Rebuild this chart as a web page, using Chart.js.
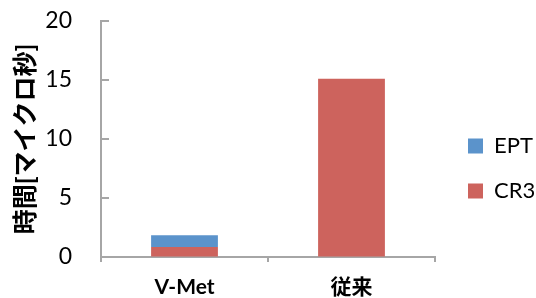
<!DOCTYPE html>
<html>
<head>
<meta charset="utf-8">
<script src="https://cdn.jsdelivr.net/npm/chart.js@4"></script>
<style>
  body { margin: 0; background: #fff; }
  #wrap { width: 536px; height: 298px; }
</style>
</head>
<body>
<div id="wrap"><canvas id="timeChart" width="536" height="298"></canvas></div>
<script>
const categories = ['V-Met', '従来'];
const cr3Values = [0.85, 15.1];
const eptValues = [1.0, 0];
const yTicks = [0, 5, 10, 15, 20];
const axisTitle = '時間[マイクロ秒]';

const axisColor = '#a6a6a6';
const fontFamily = "Lato, 'Noto Sans CJK JP', sans-serif";

// legend placement tweak: fixed width on the right, moved to where the reference has it
const legendPlace = {
    id: 'legendPlace',
    afterInit(chart) {
        const legend = chart.legend;
        const fit = legend.fit;
        legend.fit = function () {
            fit.call(this);
            this.width = 101;
        };
    },
    afterLayout(chart) {
        const legend = chart.legend;
        legend.left = 445;
        legend.right = 536;
        legend.top = 112;
    }
};

// excel style tick marks pointing into the plot on the value axis
const innerTicks = {
    id: 'innerTicks',
    afterDraw(chart) {
        const c = chart.ctx;
        const yScale = chart.scales.y;
        const left = chart.chartArea.left;
        c.save();
        c.strokeStyle = axisColor;
        c.lineWidth = 2;
        c.beginPath();
        yTicks.forEach(v => {
            const py = Math.round(yScale.getPixelForValue(v));
            c.moveTo(left, py);
            c.lineTo(left + 8, py);
        });
        c.stroke();
        c.restore();
    }
};

const ctx = document.getElementById('timeChart').getContext('2d');
new Chart(ctx, {
    type: 'bar',
    data: {
        labels: categories,
        datasets: [
            {
                label: 'CR3',
                data: cr3Values,
                backgroundColor: '#cd635d',
                borderWidth: 0,
                categoryPercentage: 1,
                barPercentage: 0.4
            },
            {
                label: 'EPT',
                data: eptValues,
                backgroundColor: '#5b93cb',
                borderWidth: 0,
                categoryPercentage: 1,
                barPercentage: 0.4
            }
        ]
    },
    options: {
        responsive: false,
        animation: false,
        layout: { padding: 0 },
        plugins: {
            legend: {
                position: 'right',
                align: 'start',
                reverse: true,
                labels: {
                    boxWidth: 15,
                    boxHeight: 15,
                    padding: 23,
                    color: '#000',
                    font: { family: fontFamily, size: 22, lineHeight: 1 }
                }
            },
            tooltip: { enabled: false }
        },
        scales: {
            x: {
                stacked: true,
                afterFit(scale) { scale.height = 41; },
                border: { color: axisColor, width: 2 },
                grid: {
                    drawOnChartArea: false,
                    color: axisColor,
                    lineWidth: 2,
                    tickLength: 5,
                    offset: true
                },
                ticks: {
                    color: '#000',
                    padding: 13,
                    font: { family: fontFamily, size: 21, weight: 'bold' }
                }
            },
            y: {
                stacked: true,
                min: yTicks[0],
                max: yTicks[yTicks.length - 1],
                afterFit(scale) {
                    scale.width = 101;
                    scale.paddingTop = 21;
                    scale.paddingBottom = 0;
                },
                afterBuildTicks(scale) { scale.ticks = yTicks.map(v => ({ value: v })); },
                border: { color: axisColor, width: 2 },
                grid: {
                    drawOnChartArea: false,
                    drawTicks: false
                },
                ticks: {
                    color: '#000',
                    padding: 29,
                    font: { family: fontFamily, size: 23 }
                },
                title: {
                    display: true,
                    text: axisTitle,
                    color: '#000',
                    padding: { top: 13, bottom: 0 },
                    font: { family: fontFamily, size: 25, weight: 'bold', lineHeight: 1 }
                }
            }
        }
    },
    plugins: [legendPlace, innerTicks]
});
</script>
</body>
</html>
